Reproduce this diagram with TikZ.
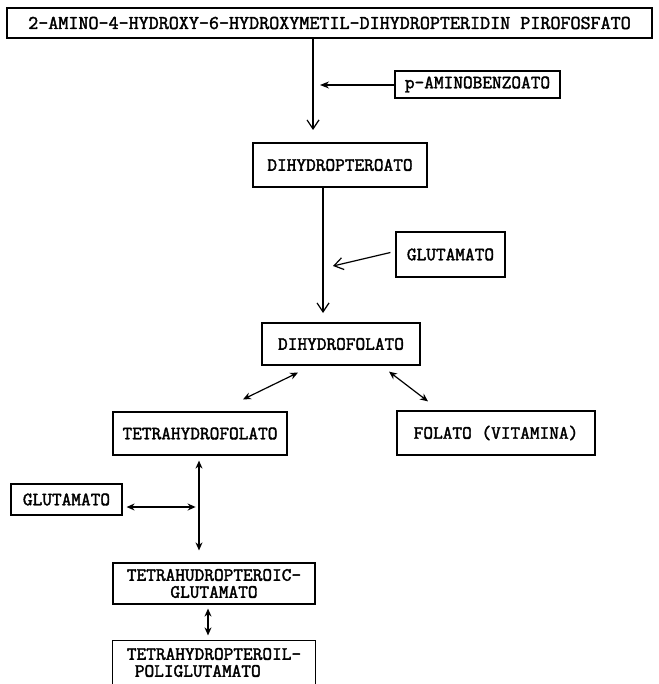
\documentclass[tikz,border=0pt]{standalone}
\usepackage{fontspec}
\newfontfamily\tw[FakeBold=2]{Latin Modern Mono}
\usetikzlibrary{arrows.meta,calc}
\begin{document}
\begin{tikzpicture}[x=1pt,y=-1pt,
  box/.style={draw, line width=1.2pt, inner sep=0pt, align=center,
    font=\tw\fontsize{18.8}{17}\selectfont},
  ln/.style={line width=1.2pt},
  barb/.style={ln, -{Straight Barb[length=9pt,width=12pt,line width=1.2pt]}},
  small/.style={ln, -{Stealth[length=9pt,width=7pt]}},
  dbl/.style={ln, {Stealth[length=8pt,width=7pt]}-{Stealth[length=8pt,width=7pt]}}]
\useasboundingbox[fill=white] (0,0) rectangle (658,684);

% boxes
\node[box, minimum width=645pt, minimum height=30pt, font=\tw\fontsize{19.5}{17}\selectfont] (top) at (329.5,23)
  {2-AMINO-4-HYDROXY-6-HYDROXYMETIL-DIHYDROPTERIDIN PIROFOSFATO};
\node[box, minimum width=165pt, minimum height=27pt] (pab) at (477.5,84.5) {p-AMINOBENZOATO};
\node[box, minimum width=174pt, minimum height=44pt] (dp) at (340,165) {DIHYDROPTEROATO};
\node[box, minimum width=109pt, minimum height=45pt] (g1) at (450.5,254.5) {GLUTAMATO};
\node[box, minimum width=158pt, minimum height=42pt] (df) at (341,344) {DIHYDROFOLATO};
\node[box, minimum width=174pt, minimum height=43pt] (th) at (200,433.5) {TETRAHYDROFOLATO};
\node[box, minimum width=198pt, minimum height=44pt] (fo) at (496,433) {FOLATO (VITAMINA)};
\node[box, minimum width=111pt, minimum height=31pt] (g2) at (66.5,499.5) {GLUTAMATO};
\node[box, minimum width=202pt, minimum height=41pt] (tp) at (214,583.5) {TETRAHUDROPTEROIC-\\GLUTAMATO};
\node[box, draw=none, align=left, minimum width=202pt, minimum height=43pt] (pb) at (214,662.5)
  {TETRAHYDROPTEROIL-\\\hspace*{8pt}POLIGLUTAMATO};
\draw[ln] (pb.south west) -- (pb.north west) -- (pb.north east) -- (pb.south east);

% connectors
\coordinate (t1) at (313,130);
\draw[barb] (top.south -| t1) -- (t1);
\coordinate (t2) at (320,85);
\draw[small] (pab.west |- t2) -- (t2);
\coordinate (t3) at (323,313);
\draw[barb] (dp.south -| t3) -- (t3);
\coordinate (t4) at (333,266);
\draw[barb] ($(g1.west)+(-5,-2)$) -- (t4);
\draw[dbl] ($(df.south)+(-43,7)$) -- ($(th.north)+(43,-12)$);
\draw[dbl] ($(df.south)+(48,6)$) -- ($(fo.north)+(-68,-9)$);
\draw[dbl] ($(th.south)+(-1,5)$) -- ($(tp.north)+(-15,-12)$);
\draw[dbl] ($(g2.east)+(4,7.5)$) -- ($(g2.east)+(73,7.5)$);
\draw[dbl] ($(tp.south)+(-6,4)$) -- ($(pb.north)+(-6,-5)$);
\end{tikzpicture}
\end{document}
